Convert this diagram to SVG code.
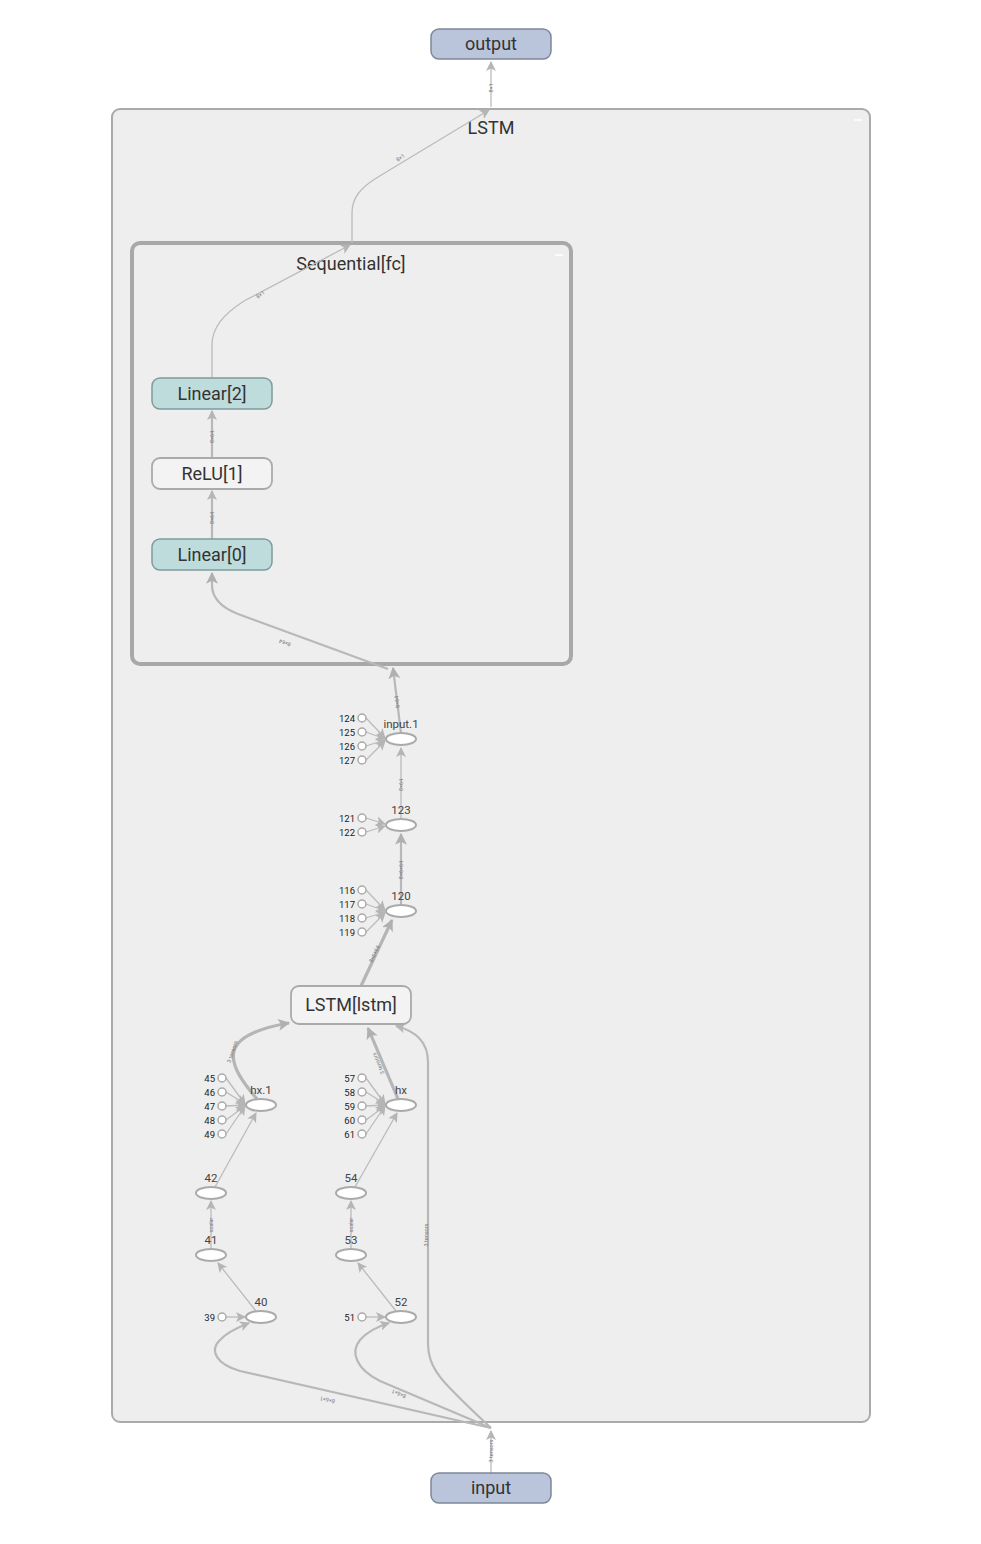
<svg xmlns="http://www.w3.org/2000/svg" width="981" height="1544" viewBox="0 0 981 1544">
<style>
.t{font-family:Roboto,"Liberation Sans",sans-serif;fill:#333;text-anchor:middle}
.big{font-size:18px}
.lbl{font-size:11.5px;fill:#444}
.cl{font-family:Roboto,"Liberation Sans",sans-serif;font-size:9.5px;fill:#222;text-anchor:end}
.el{font-family:Roboto,"Liberation Sans",sans-serif;font-size:5.5px;fill:#777;text-anchor:middle}
.e{fill:none;stroke:#bbb;stroke-width:1.3}
.e2{fill:none;stroke:#b8b8b8;stroke-width:2.2}
.e3{fill:none;stroke:#b5b5b5;stroke-width:3.2}
.op{fill:#fff;stroke:#aaa;stroke-width:2}
.c{fill:#fff;stroke:#aaa;stroke-width:1.5}
.io{fill:#bac5dc;stroke:#7e8799;stroke-width:1.5}
.lin{fill:#bfdcdc;stroke:#7f9c9b;stroke-width:1.5}
.mod{fill:#f3f3f3;stroke:#aaa;stroke-width:1.8}
</style>
<defs>
<marker id="a" viewBox="0 0 10 10" refX="9" refY="5" markerWidth="10" markerHeight="10" markerUnits="userSpaceOnUse" orient="auto"><path d="M0,0 L10,5 L0,10 L2.5,5 z" fill="#b5b5b5"/></marker>
<marker id="a2" viewBox="0 0 10 10" refX="9" refY="5" markerWidth="12" markerHeight="12" markerUnits="userSpaceOnUse" orient="auto"><path d="M0,0 L10,5 L0,10 L2.5,5 z" fill="#b0b0b0"/></marker>
</defs>
<rect width="981" height="1544" fill="#fff"/>

<g id="LSTM">
<rect x="112" y="109" width="758" height="1313" rx="8" fill="#eeeeee" stroke="#aaa" stroke-width="2"/>
<text class="t big" x="491" y="134">LSTM</text>
<line x1="854" y1="120" x2="862" y2="120" stroke="#fff" stroke-width="1.5"/>
</g>

<g id="Sequential_fc">
<rect x="132" y="243" width="439" height="421" rx="8" fill="#eeeeee" stroke="#a8a8a8" stroke-width="4"/>
<text class="t big" x="351" y="270">Sequential[fc]</text>
<line x1="555" y1="255" x2="563" y2="255" stroke="#fff" stroke-width="1.5"/>
</g>

<g id="connectors">
<path class="e" d="M491,107 L491,62" marker-end="url(#a)"/>
<path class="e" d="M352,243 L352,213 C352,198 360,188 378,177 L489,110" marker-end="url(#a)"/>
<path class="e" d="M212,378 L212,345 C212,327 224,314 244,301 L350,245" marker-end="url(#a)"/>
<path class="e2" d="M212,458 L212,411" marker-end="url(#a)"/>
<path class="e2" d="M212,539 L212,491" marker-end="url(#a)"/>
<path class="e2" d="M388,669 L238,614 C220,607 212,598 212,585 L212,573" marker-end="url(#a2)"/>
<path class="e2" d="M401,733 L393,668" marker-end="url(#a2)"/>
<path class="e" d="M401,819 L401,748" marker-end="url(#a)"/>
<path class="e2" d="M401,905 L401,834" marker-end="url(#a2)"/>
<path class="e3" d="M361,986 L392,920" marker-end="url(#a2)"/>
<path class="e3" d="M257,1099 C245,1085 230,1066 234,1051 C238,1036 260,1028 289,1023" marker-end="url(#a2)"/>
<path class="e3" d="M398,1099 L368,1028" marker-end="url(#a2)"/>
<path class="e" d="M215,1187 L256,1113" marker-end="url(#a)"/>
<path class="e" d="M355,1187 L397,1113" marker-end="url(#a)"/>
<path class="e" d="M211,1249 L211,1201" marker-end="url(#a)"/>
<path class="e" d="M351,1249 L351,1201" marker-end="url(#a)"/>
<path class="e" d="M256,1311 L218,1263" marker-end="url(#a)"/>
<path class="e" d="M396,1311 L358,1263" marker-end="url(#a)"/>
<path class="e" d="M226,1317 L245,1317" marker-end="url(#a)"/>
<path class="e" d="M366,1317 L385,1317" marker-end="url(#a)"/>
<path class="e" d="M491,1473 L491,1431" marker-end="url(#a)"/>
<path class="e2" d="M491,1428 L240,1371 C216,1364 210,1351 219,1341 C226,1333 236,1328 249,1323" marker-end="url(#a)"/>
<path class="e2" d="M491,1428 L380,1381 C356,1369 350,1352 360,1340 C367,1332 376,1327 389,1323" marker-end="url(#a)"/>
<path class="e2" d="M491,1428 C442,1382 428,1370 428,1342 L428,1062 C428,1042 416,1031 396,1026" marker-end="url(#a)"/>
<g class="e">
<path d="M366,718 L385,738" marker-end="url(#a)"/>
<path d="M366,732 L385,739" marker-end="url(#a)"/>
<path d="M366,746 L385,740" marker-end="url(#a)"/>
<path d="M366,760 L385,741" marker-end="url(#a)"/>
<path d="M366,818 L385,824" marker-end="url(#a)"/>
<path d="M366,832 L385,826" marker-end="url(#a)"/>
<path d="M366,890 L385,910" marker-end="url(#a)"/>
<path d="M366,904 L385,911" marker-end="url(#a)"/>
<path d="M366,918 L385,912" marker-end="url(#a)"/>
<path d="M366,932 L385,913" marker-end="url(#a)"/>
<path d="M226,1078 L245,1104" marker-end="url(#a)"/>
<path d="M226,1092 L245,1104" marker-end="url(#a)"/>
<path d="M226,1106 L245,1105" marker-end="url(#a)"/>
<path d="M226,1120 L245,1106" marker-end="url(#a)"/>
<path d="M226,1134 L245,1106" marker-end="url(#a)"/>
<path d="M366,1078 L385,1104" marker-end="url(#a)"/>
<path d="M366,1092 L385,1104" marker-end="url(#a)"/>
<path d="M366,1106 L385,1105" marker-end="url(#a)"/>
<path d="M366,1120 L385,1106" marker-end="url(#a)"/>
<path d="M366,1134 L385,1106" marker-end="url(#a)"/>
</g>
<text class="el" transform="translate(491,88) rotate(-90)" dy="2">8×1</text>
<text class="el" transform="translate(402,160) rotate(-35)" dy="-1">8×1</text>
<text class="el" transform="translate(262,297) rotate(-35)" dy="-1">8×1</text>
<text class="el" transform="translate(212,437) rotate(-90)" dy="2">8×64</text>
<text class="el" transform="translate(212,518) rotate(-90)" dy="2">8×64</text>
<text class="el" transform="translate(286,640) rotate(-159.4)" dy="-1">8×64</text>
<text class="el" transform="translate(397,702) rotate(-97)" dy="2">8×64</text>
<text class="el" transform="translate(401,785) rotate(-90)" dy="2">8×64</text>
<text class="el" transform="translate(401,870) rotate(-90)" dy="2">8×6×64</text>
<text class="el" transform="translate(377,955) rotate(-64.8)" dy="-1">8×6×64</text>
<text class="el" transform="translate(236,1053) rotate(-72)" dy="-2">3 tensors</text>
<text class="el" transform="translate(382,1062) rotate(-112.6)" dy="-2">3 tensors</text>
<text class="el" transform="translate(211,1225) rotate(-90)" dy="2">scalar</text>
<text class="el" transform="translate(351,1225) rotate(-90)" dy="2">scalar</text>
<text class="el" transform="translate(426,1235) rotate(-90)" dy="2">3 tensors</text>
<text class="el" transform="translate(328,1397) rotate(-167)" dy="-1">8×6×1</text>
<text class="el" transform="translate(400,1391) rotate(-157)" dy="-1">8×6×1</text>
<text class="el" transform="translate(491,1451) rotate(-90)" dy="2">3 tensors</text>
</g>

<g id="output"><rect class="io" x="431" y="29" width="120" height="30" rx="8"/><text class="t big" x="491" y="50">output</text></g>
<g id="input"><rect class="io" x="431" y="1473" width="120" height="30" rx="8"/><text class="t big" x="491" y="1494">input</text></g>
<g id="Linear_2"><rect class="lin" x="152" y="378" width="120" height="31" rx="8"/><text class="t big" x="212" y="400">Linear[2]</text></g>
<g id="ReLU_1"><rect class="mod" x="152" y="458" width="120" height="31" rx="8"/><text class="t big" x="212" y="480">ReLU[1]</text></g>
<g id="Linear_0"><rect class="lin" x="152" y="539" width="120" height="31" rx="8"/><text class="t big" x="212" y="561">Linear[0]</text></g>
<g id="LSTM_lstm"><rect class="mod" x="291" y="986" width="120" height="38" rx="8"/><text class="t big" x="351" y="1011">LSTM[lstm]</text></g>

<g id="input_1"><ellipse class="op" cx="401" cy="739" rx="15" ry="6"/><text class="t lbl" x="401" y="728">input.1</text>
<circle class="c" cx="362" cy="718" r="4"/><text class="cl" x="355" y="721.5">124</text>
<circle class="c" cx="362" cy="732" r="4"/><text class="cl" x="355" y="735.5">125</text>
<circle class="c" cx="362" cy="746" r="4"/><text class="cl" x="355" y="749.5">126</text>
<circle class="c" cx="362" cy="760" r="4"/><text class="cl" x="355" y="763.5">127</text></g>
<g id="n123"><ellipse class="op" cx="401" cy="825" rx="15" ry="6"/><text class="t lbl" x="401" y="814">123</text>
<circle class="c" cx="362" cy="818" r="4"/><text class="cl" x="355" y="821.5">121</text>
<circle class="c" cx="362" cy="832" r="4"/><text class="cl" x="355" y="835.5">122</text></g>
<g id="n120"><ellipse class="op" cx="401" cy="911" rx="15" ry="6"/><text class="t lbl" x="401" y="900">120</text>
<circle class="c" cx="362" cy="890" r="4"/><text class="cl" x="355" y="893.5">116</text>
<circle class="c" cx="362" cy="904" r="4"/><text class="cl" x="355" y="907.5">117</text>
<circle class="c" cx="362" cy="918" r="4"/><text class="cl" x="355" y="921.5">118</text>
<circle class="c" cx="362" cy="932" r="4"/><text class="cl" x="355" y="935.5">119</text></g>
<g id="hx_1"><ellipse class="op" cx="261" cy="1105" rx="15" ry="6"/><text class="t lbl" x="261" y="1094">hx.1</text>
<circle class="c" cx="222" cy="1078" r="4"/><text class="cl" x="215" y="1081.5">45</text>
<circle class="c" cx="222" cy="1092" r="4"/><text class="cl" x="215" y="1095.5">46</text>
<circle class="c" cx="222" cy="1106" r="4"/><text class="cl" x="215" y="1109.5">47</text>
<circle class="c" cx="222" cy="1120" r="4"/><text class="cl" x="215" y="1123.5">48</text>
<circle class="c" cx="222" cy="1134" r="4"/><text class="cl" x="215" y="1137.5">49</text></g>
<g id="hx"><ellipse class="op" cx="401" cy="1105" rx="15" ry="6"/><text class="t lbl" x="401" y="1094">hx</text>
<circle class="c" cx="362" cy="1078" r="4"/><text class="cl" x="355" y="1081.5">57</text>
<circle class="c" cx="362" cy="1092" r="4"/><text class="cl" x="355" y="1095.5">58</text>
<circle class="c" cx="362" cy="1106" r="4"/><text class="cl" x="355" y="1109.5">59</text>
<circle class="c" cx="362" cy="1120" r="4"/><text class="cl" x="355" y="1123.5">60</text>
<circle class="c" cx="362" cy="1134" r="4"/><text class="cl" x="355" y="1137.5">61</text></g>
<g id="n42"><ellipse class="op" cx="211" cy="1193" rx="15" ry="6"/><text class="t lbl" x="211" y="1182">42</text></g>
<g id="n41"><ellipse class="op" cx="211" cy="1255" rx="15" ry="6"/><text class="t lbl" x="211" y="1244">41</text></g>
<g id="n40"><ellipse class="op" cx="261" cy="1317" rx="15" ry="6"/><text class="t lbl" x="261" y="1306">40</text>
<circle class="c" cx="222" cy="1317" r="4"/><text class="cl" x="215" y="1320.5">39</text></g>
<g id="n54"><ellipse class="op" cx="351" cy="1193" rx="15" ry="6"/><text class="t lbl" x="351" y="1182">54</text></g>
<g id="n53"><ellipse class="op" cx="351" cy="1255" rx="15" ry="6"/><text class="t lbl" x="351" y="1244">53</text></g>
<g id="n52"><ellipse class="op" cx="401" cy="1317" rx="15" ry="6"/><text class="t lbl" x="401" y="1306">52</text>
<circle class="c" cx="362" cy="1317" r="4"/><text class="cl" x="355" y="1320.5">51</text></g>
</svg>
